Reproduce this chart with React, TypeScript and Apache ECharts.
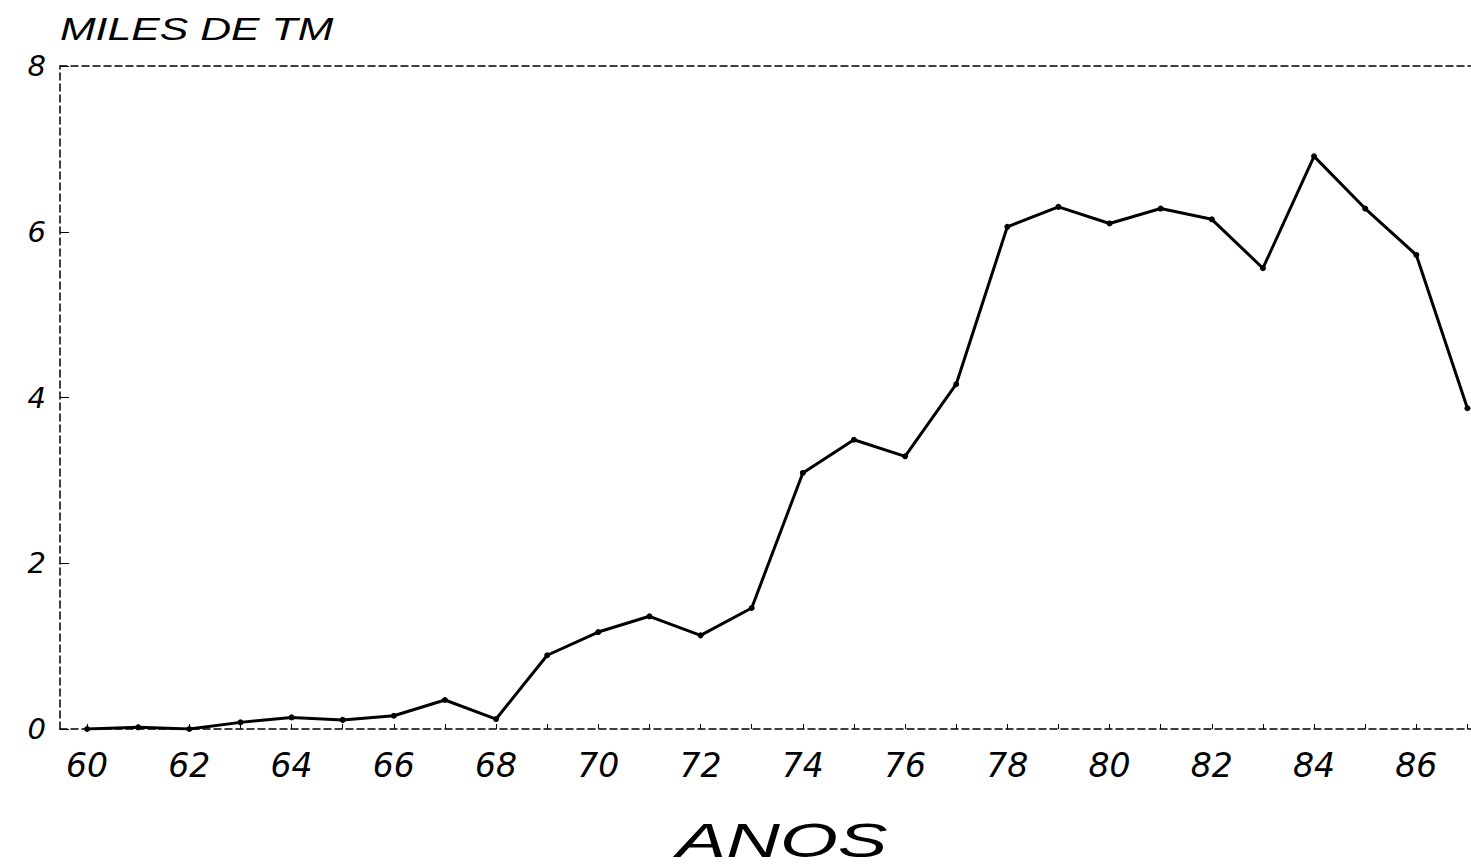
import React, { useEffect, useRef } from "react";
import * as echarts from "echarts";

const years: number[] = [60, 61, 62, 63, 64, 65, 66, 67, 68, 69, 70, 71, 72, 73, 74, 75, 76, 77, 78, 79, 80, 81, 82, 83, 84, 85, 86, 87];
const values: number[] = [0, 0.02, 0, 0.08, 0.14, 0.11, 0.16, 0.35, 0.12, 0.89, 1.17, 1.36, 1.13, 1.46, 3.09, 3.49, 3.29, 4.16, 6.06, 6.3, 6.1, 6.28, 6.15, 5.56, 6.91, 6.28, 5.72, 3.87];
const xLabelValues: number[] = [60, 62, 64, 66, 68, 70, 72, 74, 76, 78, 80, 82, 84, 86];
const yTicks: number[] = [0, 2, 4, 6, 8];
const titleText = "MILES DE TM";
const xAxisTitle = "ANOS";

export default function App() {
  const ref = useRef<HTMLDivElement>(null);
  useEffect(() => {
    if (!ref.current) return;
    const chart = echarts.init(ref.current, null, { renderer: "svg" });
    const dashed = { color: "#000", width: 1.5, type: [7, 4] as any };
    const xMin = 59.47;
    const xMax = 87.07;
    chart.setOption({
      animation: false,
      backgroundColor: "#fff",
      grid: { left: 60, right: 0, top: 66, bottom: 139, containLabel: false },
      xAxis: [
        {
          type: "value",
          min: xMin,
          max: xMax,
          position: "bottom",
          axisLine: { show: true, onZero: false, lineStyle: dashed },
          axisTick: { show: true, inside: true, length: 5, customValues: years, lineStyle: { color: "#000", width: 1 } },
          splitLine: { show: false },
          axisLabel: {
            customValues: xLabelValues,
            margin: 20,
            color: "#000",
            fontFamily: "DejaVu Sans",
            fontStyle: "italic",
            fontSize: 33,
            formatter: (v: number) => String(v),
          },
        },
        {
          type: "value",
          min: xMin,
          max: xMax,
          position: "top",
          axisLine: { show: true, onZero: false, lineStyle: dashed },
          axisTick: { show: false },
          axisLabel: { show: false },
          splitLine: { show: false },
        },
      ],
      yAxis: {
        type: "value",
        min: 0,
        max: 8,
        interval: 2,
        axisLine: { show: true, onZero: false, lineStyle: dashed },
        axisTick: { show: true, inside: true, length: 9, customValues: yTicks, lineStyle: { color: "#000", width: 1 } },
        splitLine: { show: false },
        axisLabel: {
          margin: 14,
          color: "#000",
          fontFamily: "DejaVu Sans",
          fontStyle: "italic",
          fontSize: 29,
        },
      },
      series: [
        {
          type: "line",
          data: years.map((y, i) => [y, values[i]]),
          symbol: "circle",
          symbolSize: 6,
          itemStyle: { color: "#000" },
          lineStyle: { color: "#000", width: 3 },
          z: 5,
        },
      ],
      graphic: [
        {
          type: "text",
          x: 60,
          y: 14,
          scaleX: 1.38,
          style: {
            text: titleText,
            fill: "#000",
            font: "italic 31px 'Liberation Sans', Arial, sans-serif",
            verticalAlign: "top",
            align: "left",
          },
        },
        {
          type: "text",
          x: 782,
          y: 816,
          scaleX: 1.55,
          style: {
            text: xAxisTitle,
            fill: "#000",
            font: "italic 48px 'Liberation Sans', Arial, sans-serif",
            verticalAlign: "top",
            align: "center",
          },
        },
      ],
    });
    return () => chart.dispose();
  }, []);
  return (
    <div
      ref={ref}
      style={{ position: "absolute", left: 0, top: 0, width: 1471, height: 868, background: "#fff" }}
    />
  );
}
